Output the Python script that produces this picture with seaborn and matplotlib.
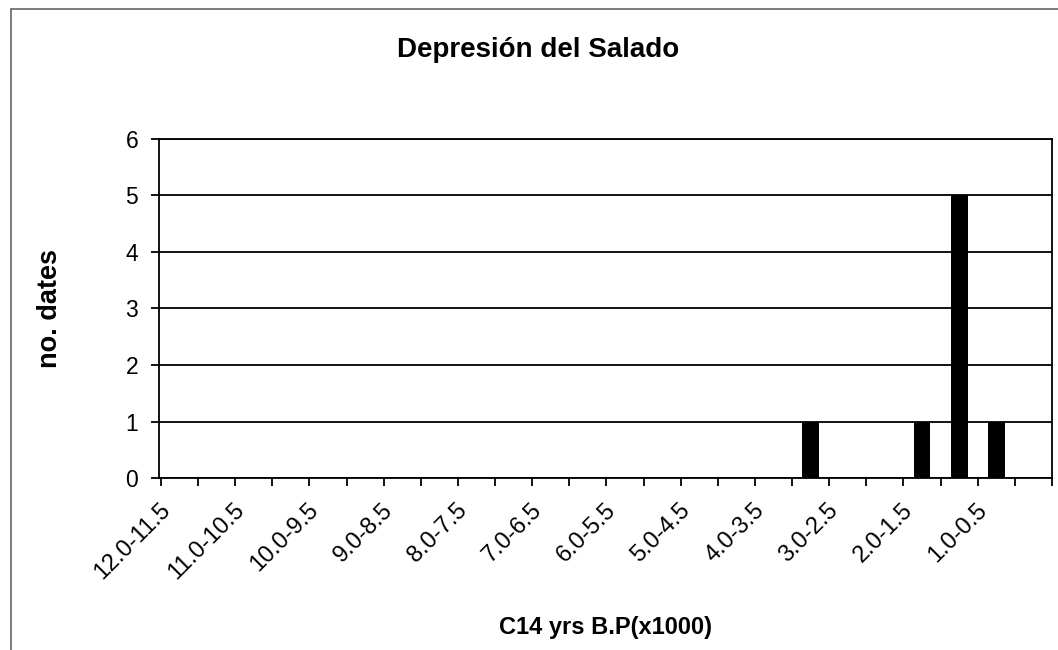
import numpy as np
import pandas as pd
import matplotlib
matplotlib.use('Agg')
import matplotlib.pyplot as plt
import seaborn as sns
from matplotlib.lines import Line2D

# 0.5 kyr bins, oldest first
starts = [12.0, 11.5, 11.0, 10.5, 10.0, 9.5, 9.0, 8.5, 8.0, 7.5, 7.0, 6.5,
          6.0, 5.5, 5.0, 4.5, 4.0, 3.5, 3.0, 2.5, 2.0, 1.5, 1.0, 0.5]
bins = [f'{s:.1f}-{s - 0.5:.1f}' for s in starts]
counts = [0, 0, 0, 0, 0, 0, 0, 0, 0, 0, 0, 0,
          0, 0, 0, 0, 0, 1, 0, 0, 1, 5, 1, 0]

title = 'Depresión del Salado'
xlabel = 'C14 yrs B.P(x1000)'
ylabel = 'no. dates'

sns.set_theme(style='white')
plt.rcParams['font.family'] = ['Liberation Sans', 'DejaVu Sans']
plt.rcParams['text.color'] = 'black'
plt.rcParams['axes.labelcolor'] = 'black'
plt.rcParams['xtick.color'] = 'black'
plt.rcParams['ytick.color'] = 'black'

df = pd.DataFrame({'bin': bins, 'count': counts})

fig = plt.figure(figsize=(10.58, 6.5), dpi=100)
ax = fig.add_axes([0.1503, 0.2646, 0.8440, 0.5216])

sns.barplot(data=df, x='bin', y='count', order=bins, color='black',
            width=0.45, saturation=1, linewidth=0, ax=ax, zorder=3)

ax.set_ylim(0, 6)
ax.set_yticks(range(0, 7))
ax.yaxis.grid(True, color='black', linewidth=1.3)
ax.set_axisbelow(True)
ax.tick_params(axis='y', which='major', direction='out', length=6, width=1.3,
               labelsize=16.5, pad=9, left=True)

ax.set_xlim(-0.5, len(bins) - 0.5)
# labels on every other bin, their end sitting just left of the bin centre
ax.set_xticks(np.arange(0, len(bins), 2) - 0.55)
ax.set_xticklabels(bins[::2], rotation=45, ha='right', rotation_mode='anchor')
ax.set_xticks(np.arange(-0.5, len(bins)), minor=True)
ax.tick_params(axis='x', which='major', length=0, labelsize=17, pad=15)
ax.tick_params(axis='x', which='minor', direction='out', length=6, width=1.3,
               bottom=True)

for s in ax.spines.values():
    s.set_color('black')
    s.set_linewidth(1.3)

ax.set_xlabel(xlabel, fontsize=17, fontweight='bold')
ax.xaxis.set_label_coords(0.5, -0.407)
ax.set_ylabel(ylabel, fontsize=19.5, fontweight='bold')
ax.yaxis.set_label_coords(-0.1075, 0.5)
fig.text(538 / 1058, 1 - 50 / 650, title, ha='center', va='center',
         fontsize=20, fontweight='bold')

# chart frame (top and left edges only visible)
fig.add_artist(Line2D([11 / 1058, 11 / 1058], [0, 1 - 9 / 650],
                      color='#666666', linewidth=1.2))
fig.add_artist(Line2D([11 / 1058, 1], [1 - 9 / 650, 1 - 9 / 650],
                      color='#666666', linewidth=1.2))

fig.savefig('out.png', dpi=100)
